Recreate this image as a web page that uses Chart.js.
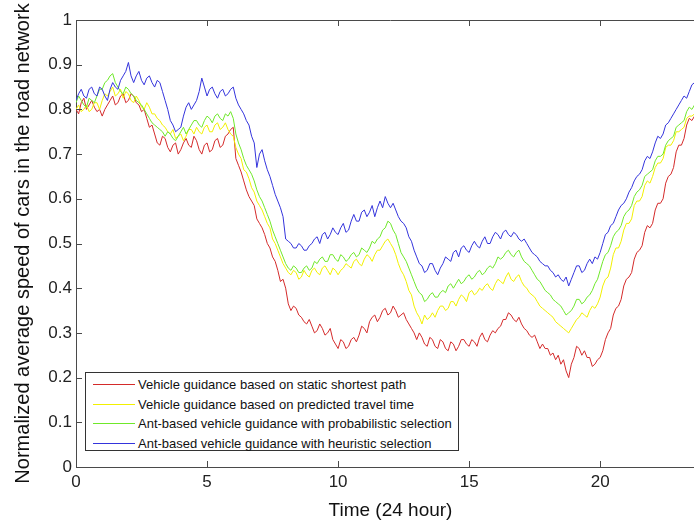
<!DOCTYPE html>
<html>
<head>
<meta charset="utf-8">
<script src="https://cdn.jsdelivr.net/npm/chart.js@4.4.1/dist/chart.umd.min.js"></script>
<style>
    body { margin: 0; overflow: hidden; background: #fff; }
    #wrap { position: relative; width: 694px; height: 524px; overflow: hidden; }
    #chart { position: absolute; left: 0; top: 0; }
    #legend {
        position: absolute; left: 85px; top: 372px; width: 374px; height: 79px;
        border: 1px solid #333; background: #fff; box-sizing: border-box;
        font: 13px "Liberation Sans", Arial, sans-serif; color: #111;
        padding-top: 2px;
    }
    .row { height: 19.5px; display: flex; align-items: center; }
    .swatch { width: 42px; height: 0; margin: 0 3px 0 7px; border-top: 1px solid; }
</style>
</head>
<body>
<div id="wrap">
    <canvas id="chart" width="712" height="524"></canvas>
    <div id="legend"></div>
</div>
<script>
// Data (time of day in hours, sampled every 0.1 h)
const hours = Array.from({ length: 241 }, (_, i) => i / 10);

const seriesLabels = [
    'Vehicle guidance based on static shortest path',
    'Vehicle guidance based on predicted travel time',
    'Ant-based vehicle guidance with probabilistic selection',
    'Ant-based vehicle guidance with heuristic selection'
];

// one row = 2 hours
const staticPath = [
    0.80, 0.79, 0.815, 0.825, 0.80, 0.81, 0.82, 0.805, 0.795, 0.80, 0.785, 0.80, 0.81, 0.82, 0.83, 0.81, 0.815, 0.83, 0.835, 0.815,
    0.82, 0.835, 0.83, 0.815, 0.81, 0.795, 0.80, 0.78, 0.76, 0.765, 0.745, 0.725, 0.72, 0.74, 0.735, 0.715, 0.705, 0.72, 0.725, 0.70,
    0.71, 0.725, 0.735, 0.72, 0.715, 0.74, 0.73, 0.71, 0.70, 0.72, 0.725, 0.705, 0.71, 0.73, 0.735, 0.715, 0.72, 0.74, 0.745, 0.755,
    0.76, 0.69, 0.675, 0.66, 0.64, 0.62, 0.605, 0.595, 0.585, 0.555, 0.545, 0.535, 0.52, 0.50, 0.49, 0.47, 0.46, 0.44, 0.415, 0.42,
    0.40, 0.365, 0.35, 0.36, 0.355, 0.34, 0.335, 0.325, 0.32, 0.33, 0.315, 0.30, 0.305, 0.32, 0.31, 0.295, 0.30, 0.31, 0.285, 0.275,
    0.265, 0.285, 0.28, 0.265, 0.27, 0.285, 0.29, 0.28, 0.295, 0.315, 0.31, 0.30, 0.325, 0.335, 0.34, 0.325, 0.335, 0.35, 0.355, 0.34,
    0.345, 0.36, 0.35, 0.335, 0.34, 0.345, 0.33, 0.32, 0.31, 0.30, 0.285, 0.30, 0.29, 0.275, 0.27, 0.29, 0.285, 0.27, 0.265, 0.285,
    0.28, 0.265, 0.26, 0.28, 0.275, 0.26, 0.27, 0.285, 0.285, 0.275, 0.27, 0.285, 0.28, 0.27, 0.29, 0.30, 0.285, 0.28, 0.295, 0.305,
    0.30, 0.31, 0.315, 0.33, 0.33, 0.345, 0.34, 0.33, 0.325, 0.335, 0.32, 0.31, 0.305, 0.295, 0.29, 0.295, 0.28, 0.265, 0.275, 0.265,
    0.265, 0.25, 0.255, 0.24, 0.25, 0.23, 0.24, 0.215, 0.20, 0.23, 0.245, 0.27, 0.265, 0.25, 0.26, 0.245, 0.245, 0.225, 0.23, 0.24,
    0.245, 0.26, 0.285, 0.30, 0.31, 0.34, 0.355, 0.36, 0.375, 0.405, 0.42, 0.425, 0.435, 0.465, 0.48, 0.485, 0.495, 0.525, 0.54, 0.535,
    0.545, 0.575, 0.59, 0.59, 0.60, 0.635, 0.65, 0.655, 0.67, 0.705, 0.72, 0.72, 0.735, 0.765, 0.78, 0.775, 0.785, 0.81, 0.82, 0.825,
    0.835
];

const predicted = [
    0.80, 0.81, 0.795, 0.80, 0.81, 0.795, 0.80, 0.815, 0.815, 0.80, 0.82, 0.835, 0.83, 0.84, 0.85, 0.83, 0.835, 0.845, 0.825, 0.84,
    0.835, 0.82, 0.815, 0.83, 0.82, 0.805, 0.80, 0.815, 0.805, 0.79, 0.79, 0.78, 0.775, 0.765, 0.76, 0.75, 0.745, 0.755, 0.735, 0.74,
    0.745, 0.73, 0.74, 0.755, 0.755, 0.745, 0.76, 0.75, 0.745, 0.76, 0.765, 0.75, 0.75, 0.765, 0.77, 0.755, 0.76, 0.77, 0.755, 0.745,
    0.74, 0.715, 0.70, 0.69, 0.665, 0.66, 0.645, 0.625, 0.615, 0.595, 0.585, 0.575, 0.56, 0.545, 0.535, 0.51, 0.50, 0.485, 0.47, 0.455,
    0.445, 0.435, 0.43, 0.44, 0.435, 0.42, 0.425, 0.44, 0.43, 0.425, 0.44, 0.445, 0.435, 0.43, 0.445, 0.45, 0.44, 0.43, 0.445, 0.44,
    0.43, 0.44, 0.445, 0.455, 0.45, 0.445, 0.46, 0.465, 0.455, 0.45, 0.465, 0.475, 0.47, 0.46, 0.475, 0.485, 0.485, 0.495, 0.505, 0.51,
    0.50, 0.49, 0.475, 0.455, 0.44, 0.43, 0.415, 0.395, 0.385, 0.36, 0.345, 0.335, 0.32, 0.34, 0.33, 0.335, 0.345, 0.335, 0.35, 0.36,
    0.36, 0.35, 0.355, 0.37, 0.37, 0.36, 0.375, 0.385, 0.38, 0.37, 0.39, 0.395, 0.385, 0.39, 0.40, 0.395, 0.405, 0.41, 0.40, 0.395,
    0.41, 0.42, 0.415, 0.41, 0.425, 0.435, 0.42, 0.415, 0.425, 0.43, 0.415, 0.405, 0.40, 0.39, 0.385, 0.38, 0.37, 0.36, 0.355, 0.35,
    0.345, 0.34, 0.335, 0.325, 0.32, 0.315, 0.31, 0.305, 0.30, 0.31, 0.32, 0.33, 0.335, 0.345, 0.34, 0.335, 0.35, 0.36, 0.355, 0.365,
    0.38, 0.405, 0.42, 0.425, 0.445, 0.475, 0.49, 0.49, 0.505, 0.53, 0.545, 0.545, 0.555, 0.585, 0.595, 0.595, 0.605, 0.63, 0.64, 0.635,
    0.65, 0.67, 0.68, 0.68, 0.69, 0.715, 0.72, 0.72, 0.73, 0.75, 0.75, 0.755, 0.76, 0.78, 0.785, 0.785, 0.79, 0.81, 0.815, 0.815,
    0.82
];

const probabilistic = [
    0.815, 0.83, 0.82, 0.81, 0.805, 0.825, 0.82, 0.815, 0.83, 0.845, 0.845, 0.86, 0.865, 0.875, 0.88, 0.86, 0.85, 0.84, 0.835, 0.85,
    0.845, 0.835, 0.83, 0.82, 0.815, 0.81, 0.80, 0.79, 0.78, 0.77, 0.765, 0.76, 0.755, 0.75, 0.74, 0.75, 0.745, 0.735, 0.73, 0.74,
    0.75, 0.76, 0.745, 0.755, 0.765, 0.775, 0.775, 0.765, 0.76, 0.775, 0.785, 0.78, 0.77, 0.785, 0.79, 0.78, 0.775, 0.79, 0.785, 0.795,
    0.78, 0.745, 0.725, 0.71, 0.69, 0.675, 0.665, 0.655, 0.64, 0.62, 0.605, 0.595, 0.58, 0.565, 0.55, 0.53, 0.515, 0.50, 0.485, 0.47,
    0.455, 0.445, 0.44, 0.45, 0.445, 0.435, 0.435, 0.445, 0.45, 0.44, 0.445, 0.46, 0.455, 0.465, 0.47, 0.46, 0.46, 0.475, 0.475, 0.465,
    0.46, 0.475, 0.47, 0.46, 0.465, 0.475, 0.48, 0.47, 0.475, 0.49, 0.485, 0.48, 0.49, 0.505, 0.50, 0.51, 0.515, 0.53, 0.535, 0.55,
    0.545, 0.53, 0.52, 0.50, 0.48, 0.47, 0.46, 0.445, 0.43, 0.415, 0.40, 0.39, 0.385, 0.37, 0.375, 0.385, 0.39, 0.38, 0.38, 0.39,
    0.395, 0.39, 0.405, 0.41, 0.40, 0.41, 0.42, 0.41, 0.415, 0.425, 0.43, 0.42, 0.425, 0.435, 0.44, 0.43, 0.435, 0.445, 0.45, 0.445,
    0.455, 0.47, 0.465, 0.47, 0.48, 0.485, 0.475, 0.47, 0.48, 0.485, 0.47, 0.46, 0.455, 0.45, 0.44, 0.43, 0.42, 0.415, 0.405, 0.395,
    0.39, 0.385, 0.375, 0.37, 0.365, 0.36, 0.35, 0.34, 0.345, 0.35, 0.36, 0.375, 0.375, 0.365, 0.37, 0.38, 0.385, 0.395, 0.41, 0.42,
    0.44, 0.46, 0.475, 0.48, 0.495, 0.515, 0.525, 0.53, 0.54, 0.56, 0.57, 0.575, 0.585, 0.605, 0.615, 0.62, 0.63, 0.65, 0.655, 0.66,
    0.665, 0.685, 0.695, 0.695, 0.70, 0.72, 0.73, 0.735, 0.74, 0.76, 0.765, 0.77, 0.775, 0.795, 0.805, 0.80, 0.81, 0.83, 0.835, 0.835,
    0.84
];

const heuristic = [
    0.82, 0.835, 0.845, 0.83, 0.825, 0.845, 0.85, 0.835, 0.83, 0.85, 0.845, 0.83, 0.82, 0.845, 0.86, 0.85, 0.845, 0.865, 0.875, 0.885,
    0.905, 0.875, 0.86, 0.875, 0.885, 0.865, 0.855, 0.87, 0.875, 0.86, 0.85, 0.865, 0.86, 0.84, 0.82, 0.80, 0.775, 0.765, 0.75, 0.755,
    0.76, 0.785, 0.805, 0.815, 0.80, 0.81, 0.82, 0.84, 0.87, 0.85, 0.83, 0.845, 0.85, 0.835, 0.825, 0.84, 0.845, 0.83, 0.835, 0.845,
    0.85, 0.825, 0.81, 0.80, 0.79, 0.775, 0.765, 0.74, 0.725, 0.67, 0.70, 0.71, 0.685, 0.665, 0.65, 0.63, 0.61, 0.595, 0.58, 0.56,
    0.51, 0.505, 0.50, 0.49, 0.49, 0.50, 0.495, 0.485, 0.485, 0.495, 0.50, 0.51, 0.515, 0.50, 0.52, 0.525, 0.51, 0.52, 0.535, 0.525,
    0.52, 0.535, 0.545, 0.525, 0.53, 0.55, 0.565, 0.55, 0.55, 0.57, 0.575, 0.56, 0.57, 0.585, 0.56, 0.58, 0.595, 0.58, 0.605, 0.59,
    0.58, 0.59, 0.575, 0.56, 0.55, 0.545, 0.535, 0.515, 0.505, 0.485, 0.47, 0.455, 0.45, 0.435, 0.44, 0.455, 0.455, 0.44, 0.43, 0.445,
    0.455, 0.47, 0.465, 0.46, 0.48, 0.485, 0.47, 0.49, 0.495, 0.485, 0.48, 0.495, 0.505, 0.495, 0.49, 0.505, 0.515, 0.50, 0.50, 0.515,
    0.525, 0.52, 0.51, 0.525, 0.53, 0.52, 0.515, 0.525, 0.52, 0.51, 0.505, 0.51, 0.50, 0.49, 0.48, 0.475, 0.47, 0.46, 0.455, 0.45,
    0.45, 0.44, 0.435, 0.425, 0.43, 0.42, 0.415, 0.425, 0.405, 0.42, 0.435, 0.45, 0.45, 0.435, 0.44, 0.455, 0.465, 0.455, 0.47, 0.465,
    0.48, 0.50, 0.52, 0.525, 0.54, 0.545, 0.56, 0.575, 0.585, 0.59, 0.60, 0.615, 0.625, 0.64, 0.65, 0.655, 0.665, 0.685, 0.695, 0.69,
    0.705, 0.725, 0.74, 0.735, 0.745, 0.765, 0.77, 0.78, 0.79, 0.80, 0.81, 0.82, 0.83, 0.825, 0.84, 0.855, 0.86, 0.855, 0.875, 0.885,
    0.89
];

const seriesValues = [staticPath, predicted, probabilistic, heuristic];
const seriesColors = ['#d42a2a', '#f2f000', '#6fe82a', '#3434dc'];
const xTicks = [0, 5, 10, 15, 20];

const font = '"Liberation Sans", Arial, sans-serif';
const axisColor = '#4a4a4a';

// Matlab-style inward ticks plus the top border
const innerTicks = {
    id: 'innerTicks',
    afterDraw(chart) {
        const { ctx, chartArea: a, scales: { x, y } } = chart;
        ctx.save();
        ctx.strokeStyle = axisColor;
        ctx.lineWidth = 1;
        ctx.beginPath();
        ctx.moveTo(a.left, a.top + 0.5);
        ctx.lineTo(a.right, a.top + 0.5);
        ctx.moveTo(a.right - 0.5, a.top);
        ctx.lineTo(a.right - 0.5, a.bottom);
        x.ticks.forEach(t => {
            const px = Math.round(x.getPixelForValue(t.value)) + 0.5;
            ctx.moveTo(px, a.bottom);
            ctx.lineTo(px, a.bottom - 6);
            ctx.moveTo(px, a.top);
            ctx.lineTo(px, a.top + 6);
        });
        y.ticks.forEach(t => {
            const py = Math.round(y.getPixelForValue(t.value)) + 0.5;
            ctx.moveTo(a.left, py);
            ctx.lineTo(a.left + 6, py);
            ctx.moveTo(a.right, py);
            ctx.lineTo(a.right - 6, py);
        });
        ctx.stroke();
        ctx.restore();
    }
};

const chart = new Chart(document.getElementById('chart'), {
    type: 'line',
    data: {
        datasets: seriesValues.map((vals, i) => ({
            label: seriesLabels[i],
            data: vals.map((v, j) => ({ x: hours[j], y: v })),
            borderColor: seriesColors[i],
            borderWidth: 1,
            pointRadius: 0,
            tension: 0,
            order: seriesValues.length - i
        }))
    },
    options: {
        responsive: false,
        animation: false,
        layout: { padding: { top: 20, right: 7, left: 0, bottom: 0 } },
        plugins: { legend: { display: false }, tooltip: { enabled: false } },
        scales: {
            x: {
                type: 'linear', min: 0, max: 24,
                afterBuildTicks: s => { s.ticks = xTicks.map(v => ({ value: v })); },
                afterFit: s => { s.height = 57; },
                grid: { display: false, drawTicks: false },
                border: { color: axisColor, width: 1 },
                ticks: { color: '#222', padding: 5, maxRotation: 0, font: { family: font, size: 17 } },
                title: {
                    display: true, text: 'Time (24 hour)', color: '#111',
                    font: { family: font, size: 19 }, padding: { top: 0, bottom: 2 }
                }
            },
            y: {
                min: 0, max: 1,
                afterFit: s => { s.width = 76; },
                grid: { display: false, drawTicks: false },
                border: { color: axisColor, width: 1 },
                ticks: {
                    stepSize: 0.1, color: '#222', padding: 4,
                    font: { family: font, size: 17 },
                    callback: v => String(Math.round(v * 10) / 10)
                },
                title: {
                    display: true, text: 'Normalized average speed of cars in the road network',
                    color: '#111', font: { family: font, size: 20 }, padding: { top: 11, bottom: 0 }
                }
            }
        }
    },
    plugins: [innerTicks]
});

// Boxed legend inside the plot, like the original figure
const legendEl = document.getElementById('legend');
chart.data.datasets.forEach(ds => {
    const row = document.createElement('div');
    row.className = 'row';
    row.innerHTML = `<span class="swatch" style="border-color:${ds.borderColor}"></span><span>${ds.label}</span>`;
    legendEl.appendChild(row);
});
</script>
</body>
</html>
